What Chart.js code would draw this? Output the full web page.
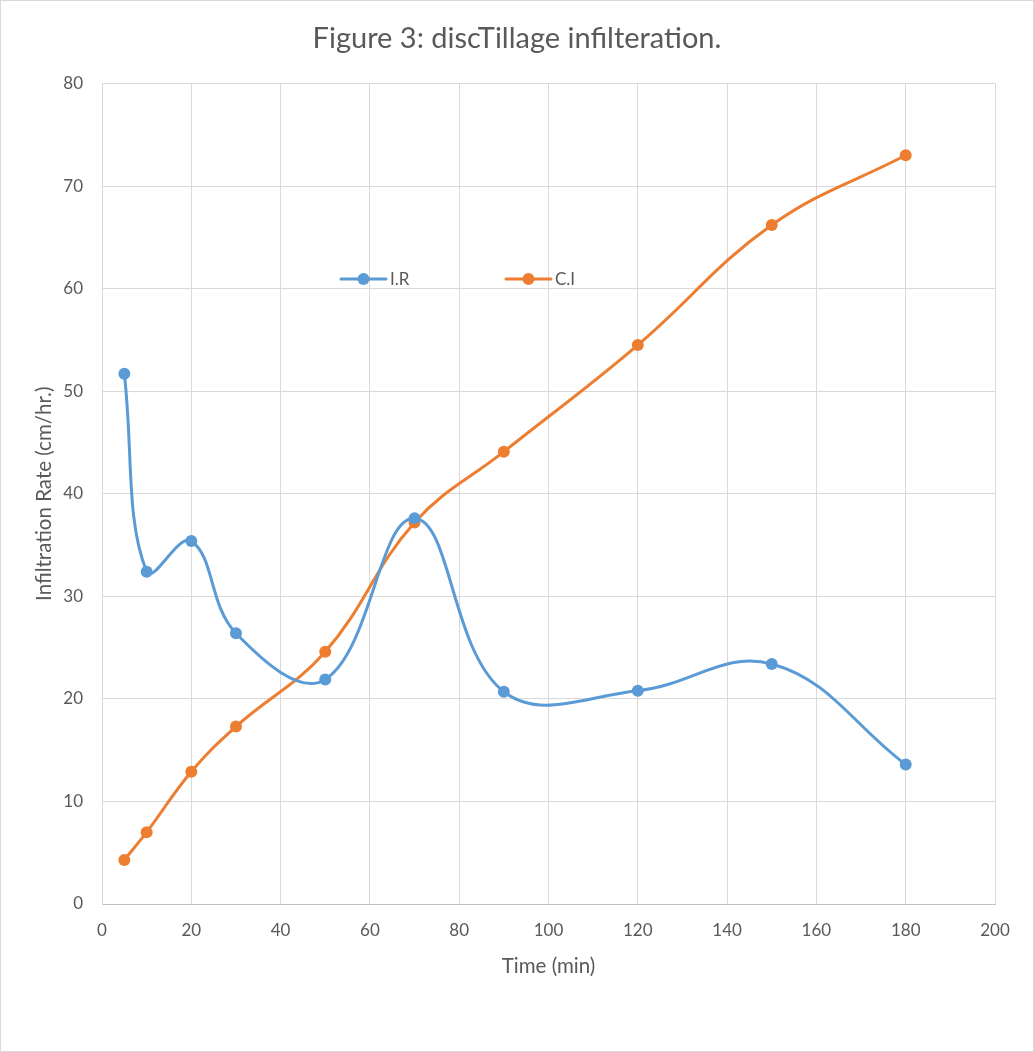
<!DOCTYPE html>
<html>
<head>
<meta charset="utf-8">
<script src="https://cdn.jsdelivr.net/npm/chart.js@4.4.1/dist/chart.umd.min.js"></script>
<style>
  html, body { margin: 0; padding: 0; background: #ffffff; }
  #wrap { position: relative; width: 1034px; height: 1052px; }
  #frame { position: absolute; left: 0; top: 0; width: 1032px; height: 1050px; border: 1px solid #d9d9d9; pointer-events: none; }
  canvas { display: block; }
</style>
</head>
<body>
<div id="wrap">
  <canvas id="c" width="1034" height="1052"></canvas>
  <div id="frame"></div>
</div>
<script>
// Data
const timeMin = [5, 10, 20, 30, 50, 70, 90, 120, 150, 180];
const infiltrationRate = [51.7, 32.4, 35.4, 26.4, 21.9, 37.6, 20.7, 20.8, 23.4, 13.6];
const cumulativeInfiltration = [4.3, 7.0, 12.9, 17.3, 24.6, 37.2, 44.1, 54.5, 66.2, 73.0];
const seriesNames = ["I.R", "C.I"];
const xTicks = [0, 20, 40, 60, 80, 100, 120, 140, 160, 180, 200];
const yTicks = [0, 10, 20, 30, 40, 50, 60, 70, 80];

const FONT = "Lato, 'Open Sans', 'DejaVu Sans', sans-serif";
const TEXT = "#595959";
const BLUE = "#5B9BD5";
const ORANGE = "#ED7D31";

function toPoints(xs, ys) { return xs.map((x, i) => ({ x: x, y: ys[i] })); }

const legendPlugin = {
  id: 'inlineLegend',
  afterDraw(chart) {
    const ctx = chart.ctx;
    const items = [
      { lineStart: 341, text: 390 },
      { lineStart: 506, text: 555 }
    ];
    const y = 279;
    ctx.save();
    chart.data.datasets.forEach((ds, i) => {
      const it = items[i];
      ctx.strokeStyle = ds.borderColor;
      ctx.lineWidth = 3;
      ctx.lineCap = 'round';
      ctx.beginPath();
      ctx.moveTo(it.lineStart, y);
      ctx.lineTo(it.lineStart + 45, y);
      ctx.stroke();
      ctx.fillStyle = ds.pointBackgroundColor;
      ctx.beginPath();
      ctx.arc(it.lineStart + 22.5, y, 6, 0, Math.PI * 2);
      ctx.fill();
      ctx.fillStyle = TEXT;
      ctx.font = "17px " + FONT;
      ctx.textBaseline = 'middle';
      ctx.textAlign = 'left';
      ctx.fillText(ds.label, it.text, y + 1);
    });
    ctx.restore();
  }
};

new Chart(document.getElementById('c'), {
  type: 'line',
  data: {
    datasets: [
      {
        label: seriesNames[0],
        data: toPoints(timeMin, infiltrationRate),
        borderColor: BLUE,
        backgroundColor: BLUE,
        pointBackgroundColor: BLUE,
        pointBorderColor: BLUE,
        borderWidth: 3,
        pointRadius: 6,
        pointBorderWidth: 0,
        tension: 0.4,
        fill: false
      },
      {
        label: seriesNames[1],
        data: toPoints(timeMin, cumulativeInfiltration),
        borderColor: ORANGE,
        backgroundColor: ORANGE,
        pointBackgroundColor: ORANGE,
        pointBorderColor: ORANGE,
        borderWidth: 3,
        pointRadius: 6,
        pointBorderWidth: 0,
        tension: 0.4,
        fill: false
      }
    ]
  },
  options: {
    responsive: false,
    animation: false,
    devicePixelRatio: 1,
    layout: { padding: { left: 0, right: 0, top: 0, bottom: 0 } },
    plugins: {
      legend: { display: false },
      tooltip: { enabled: false },
      title: {
        display: true,
        text: "Figure 3: discTillage infilteration.",
        color: TEXT,
        font: { family: FONT, size: 29, weight: 'normal' },
        padding: { top: 21.6, bottom: 27.1 }
      }
    },
    scales: {
      x: {
        type: 'linear',
        min: 0,
        max: 200,
        afterFit(scale) { scale.height = 148; },
        afterBuildTicks(scale) { scale.ticks = xTicks.map(v => ({ value: v })); },
        ticks: { color: TEXT, font: { family: FONT, size: 17 }, padding: 16, maxRotation: 0 },
        grid: { color: '#d9d9d9', lineWidth: 1, drawTicks: false },
        border: { color: '#bfbfbf', width: 1 },
        title: {
          display: true,
          text: "Time (min)",
          color: TEXT,
          font: { family: FONT, size: 20.5 },
          padding: { top: 0, bottom: 73.5 }
        }
      },
      y: {
        type: 'linear',
        position: 'left',
        min: 0,
        max: 80,
        afterFit(scale) { scale.width = 102; },
        afterBuildTicks(scale) { scale.ticks = yTicks.map(v => ({ value: v })); },
        ticks: { color: TEXT, font: { family: FONT, size: 17 }, padding: 19 },
        grid: { color: '#d9d9d9', lineWidth: 1, drawTicks: false },
        border: { color: '#d9d9d9', width: 1 },
        title: {
          display: true,
          text: "Infiltration Rate (cm/hr.)",
          color: TEXT,
          font: { family: FONT, size: 20.5 },
          padding: { top: 32.5, bottom: 0 }
        }
      },
      yRightSpace: {
        type: 'linear',
        position: 'right',
        min: 0,
        max: 80,
        afterFit(scale) { scale.width = 39; },
        ticks: { display: false },
        grid: { display: false, drawTicks: false },
        border: { display: false }
      }
    }
  },
  plugins: [legendPlugin]
});
</script>
</body>
</html>
